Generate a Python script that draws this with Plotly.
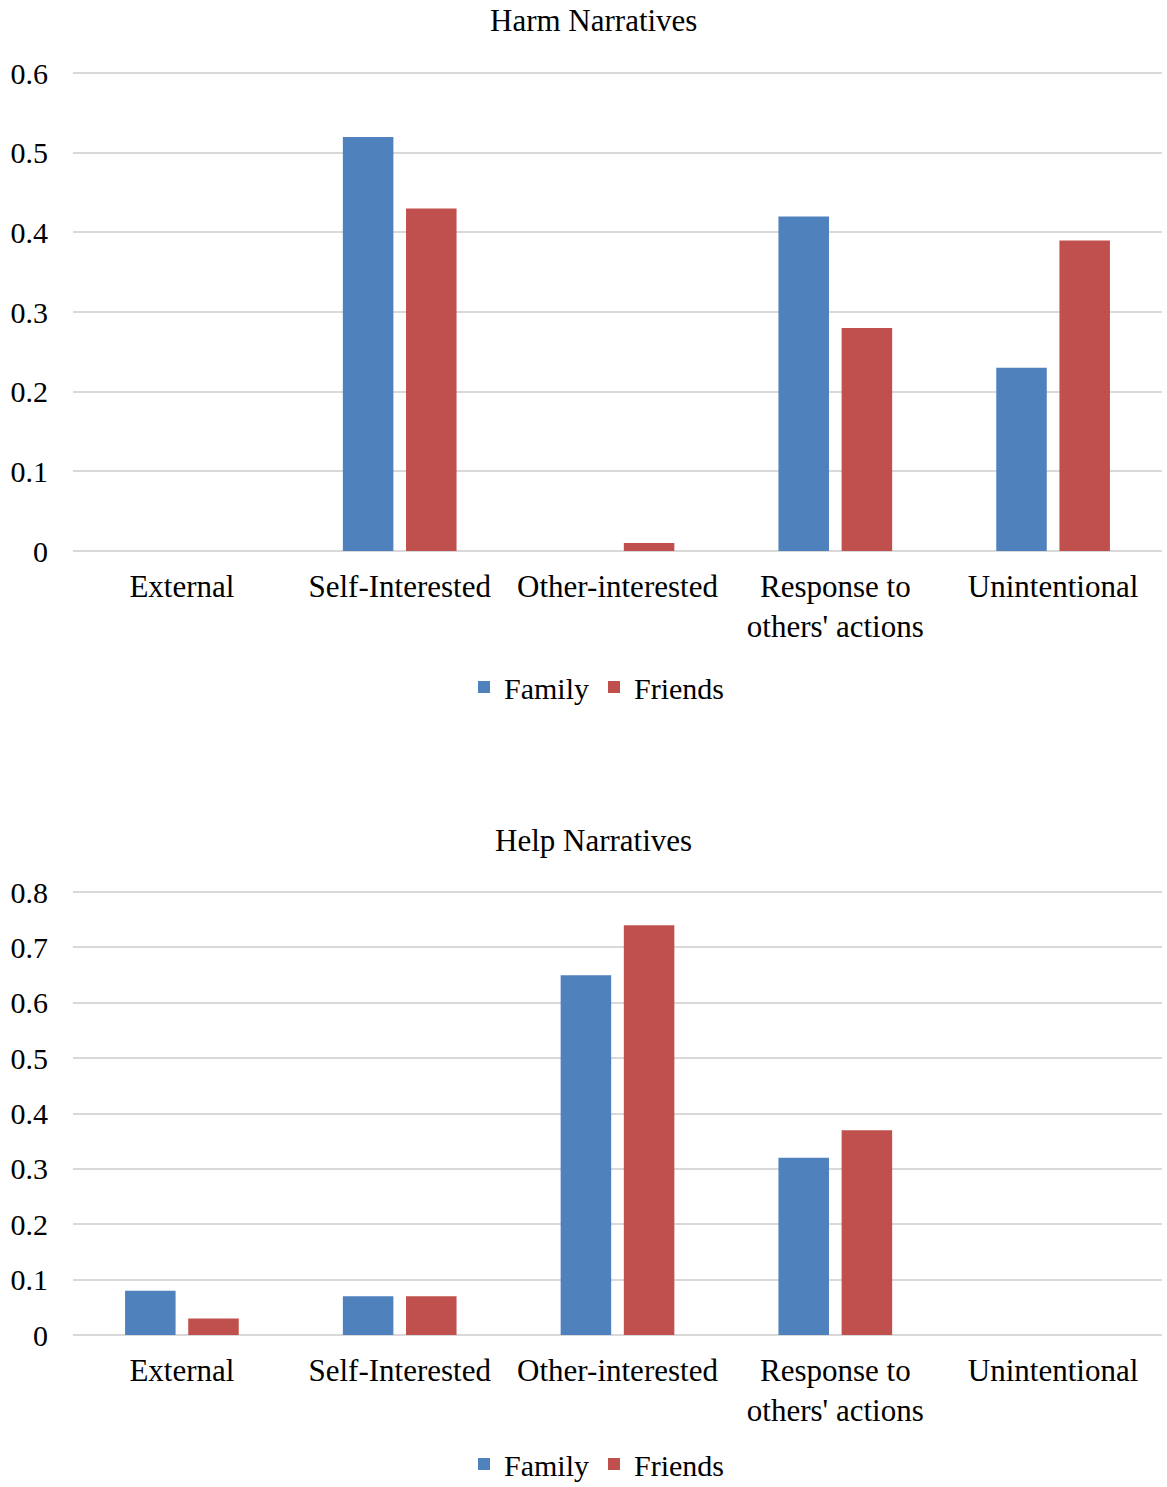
import plotly.graph_objects as go

categories = ["External", "Self-Interested", "Other-interested",
              "Response to<br>others' actions", "Unintentional"]

harm_family = [0, 0.52, 0, 0.42, 0.23]
harm_friends = [0, 0.43, 0.01, 0.28, 0.39]

help_family = [0.08, 0.07, 0.65, 0.32, 0]
help_friends = [0.03, 0.07, 0.74, 0.37, 0]

harm_ticks = [0, 0.1, 0.2, 0.3, 0.4, 0.5, 0.6]
help_ticks = [0, 0.1, 0.2, 0.3, 0.4, 0.5, 0.6, 0.7, 0.8]

BLUE = "#4F81BD"
RED = "#C0504D"
GRID = "#D9D9D9"
FONT = "Liberation Serif"
W, H = 1167, 1487
MT, MB = 20, 20

fig = go.Figure()

fig.add_trace(go.Bar(x=categories, y=harm_family, name="Family", marker_color=BLUE,
                     marker_line_width=0, xaxis="x", yaxis="y", legend="legend"))
fig.add_trace(go.Bar(x=categories, y=harm_friends, name="Friends", marker_color=RED,
                     marker_line_width=0, xaxis="x", yaxis="y", legend="legend"))
fig.add_trace(go.Bar(x=categories, y=help_family, name="Family", marker_color=BLUE,
                     marker_line_width=0, xaxis="x2", yaxis="y2", legend="legend2"))
fig.add_trace(go.Bar(x=categories, y=help_friends, name="Friends", marker_color=RED,
                     marker_line_width=0, xaxis="x2", yaxis="y2", legend="legend2"))


def dom(px):
    # pixel row -> paper fraction of the plotting area
    return 1 - (px - MT) / (H - MT - MB)


def cy(px):
    # pixel row -> container fraction
    return 1 - px / H


text_font = dict(family=FONT, size=31, color="black")
tick_font = dict(family=FONT, size=30, color="black")
legend_font = dict(family=FONT, size=30, color="black")

xcommon = dict(showgrid=False, showline=False, zeroline=False, ticks="",
               tickfont=text_font, ticklabelstandoff=14, fixedrange=True,
               automargin=False)
ycommon = dict(showgrid=True, gridcolor=GRID, gridwidth=2, zeroline=True,
               zerolinecolor=GRID, zerolinewidth=2, showline=False, ticks="",
               tickfont=tick_font, ticklabelstandoff=24, fixedrange=True,
               automargin=False)

fig.update_layout(
    width=W, height=H,
    margin=dict(l=73, r=5, t=MT, b=MB, autoexpand=False),
    paper_bgcolor="white", plot_bgcolor="white",
    barmode="group", bargap=0.42, bargroupgap=0.2,
    font=dict(family=FONT, color="black"),
    xaxis=dict(domain=[0, 1], anchor="y", **xcommon),
    yaxis=dict(domain=[dom(551), dom(72)], anchor="x", range=[0, 0.6015],
               tickvals=harm_ticks, ticktext=[f"{v:g}" for v in harm_ticks], **ycommon),
    xaxis2=dict(domain=[0, 1], anchor="y2", **xcommon),
    yaxis2=dict(domain=[dom(1335), dom(891)], anchor="x2", range=[0, 0.802],
                tickvals=help_ticks, ticktext=[f"{v:g}" for v in help_ticks], **ycommon),
    legend=dict(orientation="h", xref="container", yref="container",
                x=597 / W, xanchor="center", y=cy(687), yanchor="middle",
                font=legend_font, itemwidth=30, bgcolor="rgba(0,0,0,0)"),
    legend2=dict(orientation="h", xref="container", yref="container",
                 x=597 / W, xanchor="center", y=cy(1464), yanchor="middle",
                 font=legend_font, itemwidth=30, bgcolor="rgba(0,0,0,0)"),
    annotations=[
        dict(text="Harm Narratives", xref="paper", yref="paper", x=(593 - 73) / 1089,
             y=dom(20), xanchor="center", yanchor="middle", showarrow=False,
             font=text_font),
        dict(text="Help Narratives", xref="paper", yref="paper", x=(593 - 73) / 1089,
             y=dom(840), xanchor="center", yanchor="middle", showarrow=False,
             font=text_font),
    ],
)

fig.write_html("out.html")
